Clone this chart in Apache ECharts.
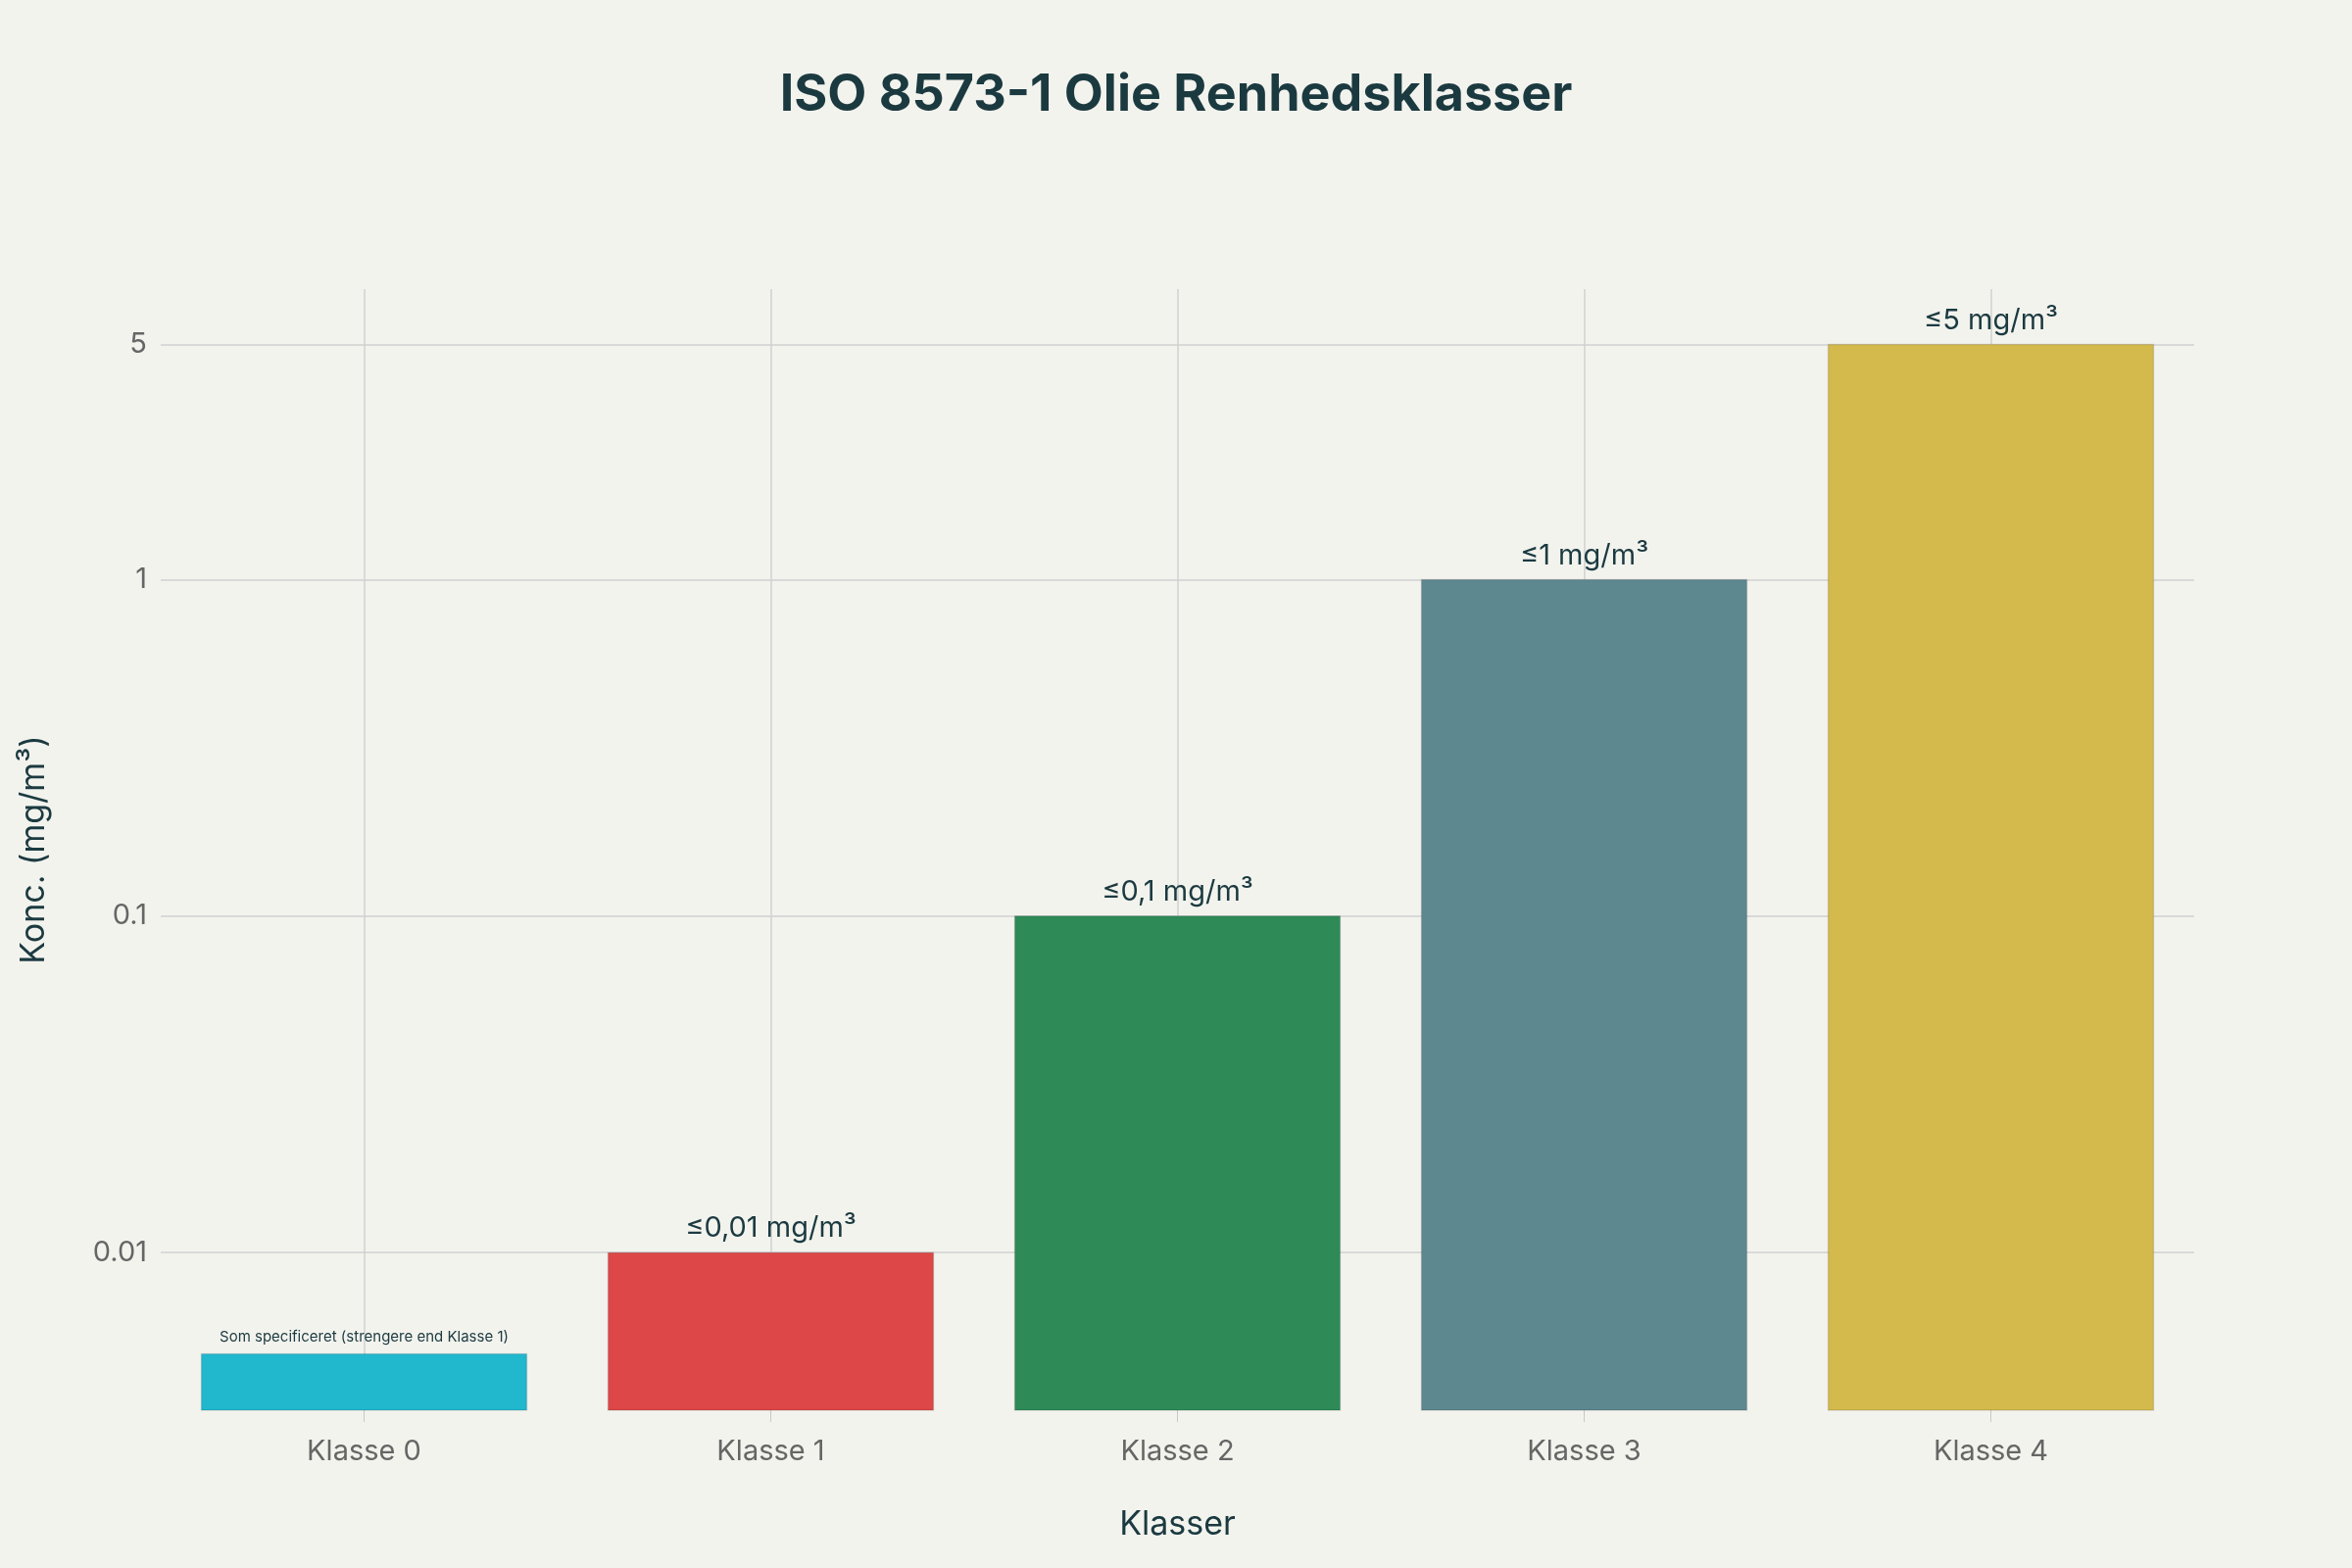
<!DOCTYPE html>
<html><head><meta charset="utf-8">
<script src="https://cdn.jsdelivr.net/npm/echarts@6/dist/echarts.min.js"></script>
<style>html,body{margin:0;background:#F3F3EE}#c{width:2400px;height:1600px}</style>
</head><body><div id="c"></div>
<script>
const categories = ['Klasse 0','Klasse 1','Klasse 2','Klasse 3','Klasse 4'];
const values = [0.005, 0.01, 0.1, 1, 5];
const labels = ['Som specificeret (strengere end Klasse 1)','≤0,01 mg/m³','≤0,1 mg/m³','≤1 mg/m³','≤5 mg/m³'];
const colors = ['#21B8CE','#DD4747','#2E8B57','#5E888F','#D4BA4D'];
const yTicks = [0.01, 0.1, 1, 5];
const yMin = 0.0034, yMax = 7.3;

const chart = echarts.init(document.getElementById('c'));
const font = 'Inter, "Noto Sans", sans-serif';
chart.setOption({
  backgroundColor:'#F3F3EE',
  title:{text:'ISO 8573-1 Olie Renhedsklasser',left:'center',top:66,
    textStyle:{fontFamily:font,fontSize:52,fontWeight:'bold',color:'#1B3A40'}},
  grid:{left:164,right:161,top:295,bottom:161},
  xAxis:{type:'category',data:categories,name:'Klasser',nameLocation:'middle',nameGap:100,
    nameTextStyle:{fontFamily:font,fontSize:34,color:'#1B3A40'},
    axisLine:{show:false},axisTick:{show:true,alignWithLabel:true,length:12,lineStyle:{color:'#c8c8c8'}},
    axisLabel:{fontFamily:font,fontSize:29,color:'#666',margin:28},
    splitLine:{show:true,alignWithLabel:true,lineStyle:{color:'#d0d0d0',width:1.5}}},
  yAxis:{type:'log',logBase:10,min:yMin,max:yMax,name:'Konc. (mg/m³)',nameLocation:'middle',nameGap:112,
    nameTextStyle:{fontFamily:font,fontSize:34,color:'#1B3A40'},
    axisLine:{show:false},axisTick:{show:false},axisLabel:{show:false},splitLine:{show:false}},
  series:[{type:'custom',
    data:values.map((v,i)=>[i,v]),
    renderItem:(params,api)=>{
      const i=api.value(0), v=api.value(1);
      const top=api.coord([i,v]), bot=api.coord([i,yMin]);
      const w=api.size([1,0])[0]*0.8;
      return {type:'group',children:[
        {type:'rect',shape:{x:top[0]-w/2,y:top[1],width:w,height:bot[1]-top[1]},
          style:{fill:colors[i],stroke:'rgba(0,0,0,0.12)',lineWidth:1.5}},
        {type:'text',x:top[0],y:top[1]-10,style:{text:labels[i],fill:'#1B3A40',
          font:(i===0?'15px ':'29px ')+font,align:'center',verticalAlign:'bottom'}}
      ]};
    },
    markLine:{silent:true,symbol:'none',lineStyle:{color:'#d0d0d0',type:'solid',width:1.5},
      label:{position:'start',formatter:'{c}',fontFamily:font,fontSize:29,color:'#666',distance:14},
      data:yTicks.map(v=>({yAxis:v})),z:0}
  }]
});
</script></body></html>
